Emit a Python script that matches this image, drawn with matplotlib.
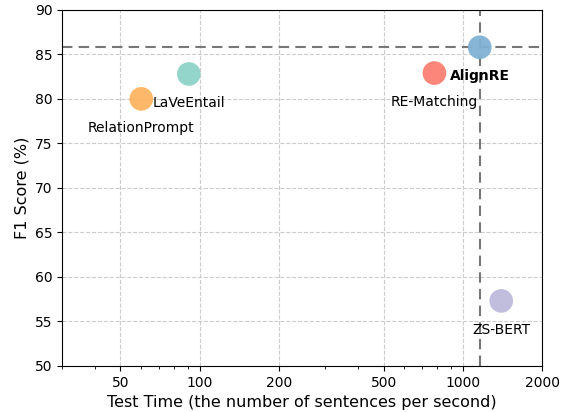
import matplotlib
matplotlib.use("Agg")
import matplotlib.pyplot as plt
from matplotlib.ticker import ScalarFormatter, NullFormatter

models = ["RelationPrompt", "LaVeEntail", "RE-Matching", "AlignRE", "ZS-BERT"]
speed = [60, 91, 780, 1160, 1400]
f1 = [80.0, 82.8, 82.9, 85.8, 57.3]
colors = ["#fdb462", "#8dd3c7", "#fb8072", "#80b1d3", "#bebada"]
xticks = [50, 100, 200, 500, 1000, 2000]

fig = plt.figure(figsize=(5.64, 4.12), dpi=100)
ax = fig.add_axes([0.11, 0.112, 0.851, 0.864])

ax.set_xscale("log")
ax.grid(True, which="major", linestyle="--", color="#cccccc", linewidth=0.8)
ax.set_axisbelow(True)

for name, x, y, c in zip(models, speed, f1, colors):
    ax.scatter(x, y, s=290, color=c, alpha=0.95, edgecolors="none", zorder=3)
    ax.annotate(name, (x, y), xytext=(0, -21), textcoords="offset points",
                ha="center", va="center", fontsize=10,
                fontweight="bold" if name == "AlignRE" else "normal", zorder=4)

best = models.index("AlignRE")
ax.axhline(f1[best], color="#777777", linestyle=(0, (5, 3)), linewidth=1.5, zorder=2)
ax.axvline(speed[best], color="#777777", linestyle=(0, (5, 3)), linewidth=1.5, zorder=2)

ax.set_xlim(30, 2000)
ax.set_ylim(50, 90)
ax.set_xticks(xticks)
ax.xaxis.set_major_formatter(ScalarFormatter())
ax.xaxis.set_minor_formatter(NullFormatter())
ax.set_xlabel("Test Time (the number of sentences per second)", fontsize=11.5)
ax.set_ylabel("F1 Score (%)", fontsize=11.5)

fig.savefig("out.png", dpi=100)
